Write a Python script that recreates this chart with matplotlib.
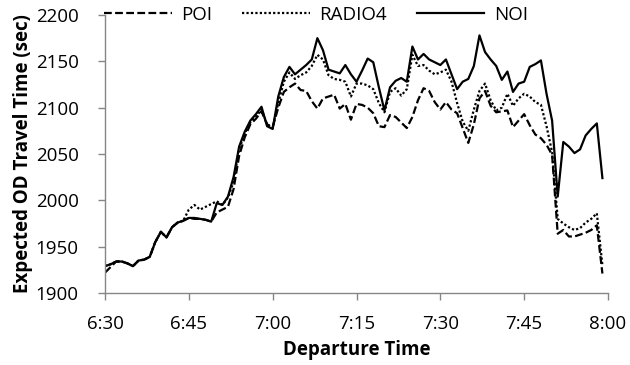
import matplotlib
matplotlib.use("Agg")
import matplotlib.pyplot as plt
import numpy as np

# minutes after 6:30, one value per minute (6:30 .. 7:59)
minutes = list(range(90))

noi = [1929, 1931, 1934, 1934, 1932, 1929, 1935, 1936, 1939, 1955,
       1966, 1960, 1971, 1976, 1978, 1981, 1981, 1980, 1979, 1977,
       1997, 1995, 2004, 2025, 2058, 2074, 2086, 2093, 2101, 2080,
       2077, 2112, 2133, 2144, 2136, 2141, 2146, 2152, 2175, 2162,
       2141, 2139, 2137, 2146, 2136, 2128, 2140, 2153, 2149, 2122,
       2097, 2122, 2129, 2132, 2128, 2166, 2152, 2158, 2152, 2149,
       2146, 2152, 2136, 2120, 2128, 2131, 2145, 2178, 2160, 2152,
       2145, 2130, 2139, 2117, 2126, 2128, 2144, 2147, 2151, 2115,
       2086, 2004, 2063, 2058, 2051, 2055, 2070, 2077, 2083, 2024]

radio4 = [1929, 1931, 1934, 1934, 1932, 1929, 1935, 1936, 1939, 1955,
          1966, 1960, 1971, 1976, 1978, 1990, 1995, 1990, 1993, 1996,
          1999, 1995, 2003, 2020, 2055, 2072, 2084, 2090, 2098, 2082,
          2078, 2105, 2128, 2138, 2131, 2135, 2138, 2145, 2157, 2152,
          2135, 2131, 2130, 2128, 2112, 2126, 2126, 2124, 2120, 2105,
          2095, 2117, 2121, 2113, 2120, 2157, 2145, 2146, 2140, 2136,
          2138, 2141, 2128, 2105, 2085, 2075, 2098, 2118, 2126, 2108,
          2097, 2100, 2115, 2102, 2110, 2115, 2112, 2106, 2103, 2080,
          2052, 1980, 1975, 1971, 1968, 1970, 1976, 1980, 1986, 1930]

poi = [1922, 1928, 1934, 1934, 1932, 1929, 1935, 1936, 1939, 1955,
       1966, 1960, 1971, 1976, 1978, 1981, 1980, 1980, 1979, 1977,
       1987, 1990, 1993, 2012, 2048, 2068, 2082, 2088, 2096, 2082,
       2079, 2100, 2117, 2122, 2126, 2119, 2118, 2107, 2099, 2110,
       2112, 2114, 2099, 2104, 2087, 2104, 2103, 2100, 2094, 2080,
       2079, 2092, 2090, 2084, 2078, 2090, 2108, 2121, 2118, 2106,
       2098, 2106, 2098, 2094, 2078, 2062, 2082, 2110, 2118, 2102,
       2095, 2096, 2097, 2079, 2086, 2093, 2081, 2071, 2067, 2060,
       2049, 1964, 1968, 1961, 1961, 1963, 1965, 1968, 1973, 1921]

tick_pos = [0, 15, 30, 45, 60, 75, 90]
tick_labels = ["6:30", "6:45", "7:00", "7:15", "7:30", "7:45", "8:00"]
y_ticks = [1900, 1950, 2000, 2050, 2100, 2150, 2200]

plt.rcParams['font.family'] = ['Open Sans', 'DejaVu Sans']
axis_grey = "#868686"
fs = 13.5

fig = plt.figure(figsize=(6.3, 3.65), dpi=100)
ax = fig.add_axes([105/630, 1 - 293/365, (608 - 105)/630, (293 - 15)/365])

ax.plot(minutes, poi, color="black", lw=1.6, dashes=(3.5, 1.5), label="POI")
ax.plot(minutes, radio4, color="black", lw=1.6, linestyle=(0, (1, 1)), label="RADIO4")
ax.plot(minutes, noi, color="black", lw=1.6, label="NOI")

ax.set_xlim(0, 90)
ax.set_ylim(1900, 2200)
ax.set_xticks(tick_pos)
ax.set_xticklabels(tick_labels)
ax.set_yticks(y_ticks)

for side in ["top", "right"]:
    ax.spines[side].set_visible(False)
for side in ["left", "bottom"]:
    ax.spines[side].set_color(axis_grey)
    ax.spines[side].set_linewidth(1.0)
ax.tick_params(axis="both", colors=axis_grey, length=5, width=1.0,
               labelcolor="black", labelsize=fs)
ax.tick_params(axis="y", pad=14)
ax.tick_params(axis="x", pad=11)

ax.set_xlabel("Departure Time", fontsize=fs, fontweight="bold", labelpad=5)
ax.set_ylabel("Expected OD Travel Time (sec)", fontsize=fs, fontweight="bold", labelpad=2)

fig.legend(loc="center", bbox_to_anchor=(316/630, 1 - 15/365), ncol=3,
           frameon=False, fontsize=fs, handlelength=3.6, columnspacing=1.6,
           handletextpad=0.5)

fig.savefig("out.png", dpi=100)
plt.close(fig)
